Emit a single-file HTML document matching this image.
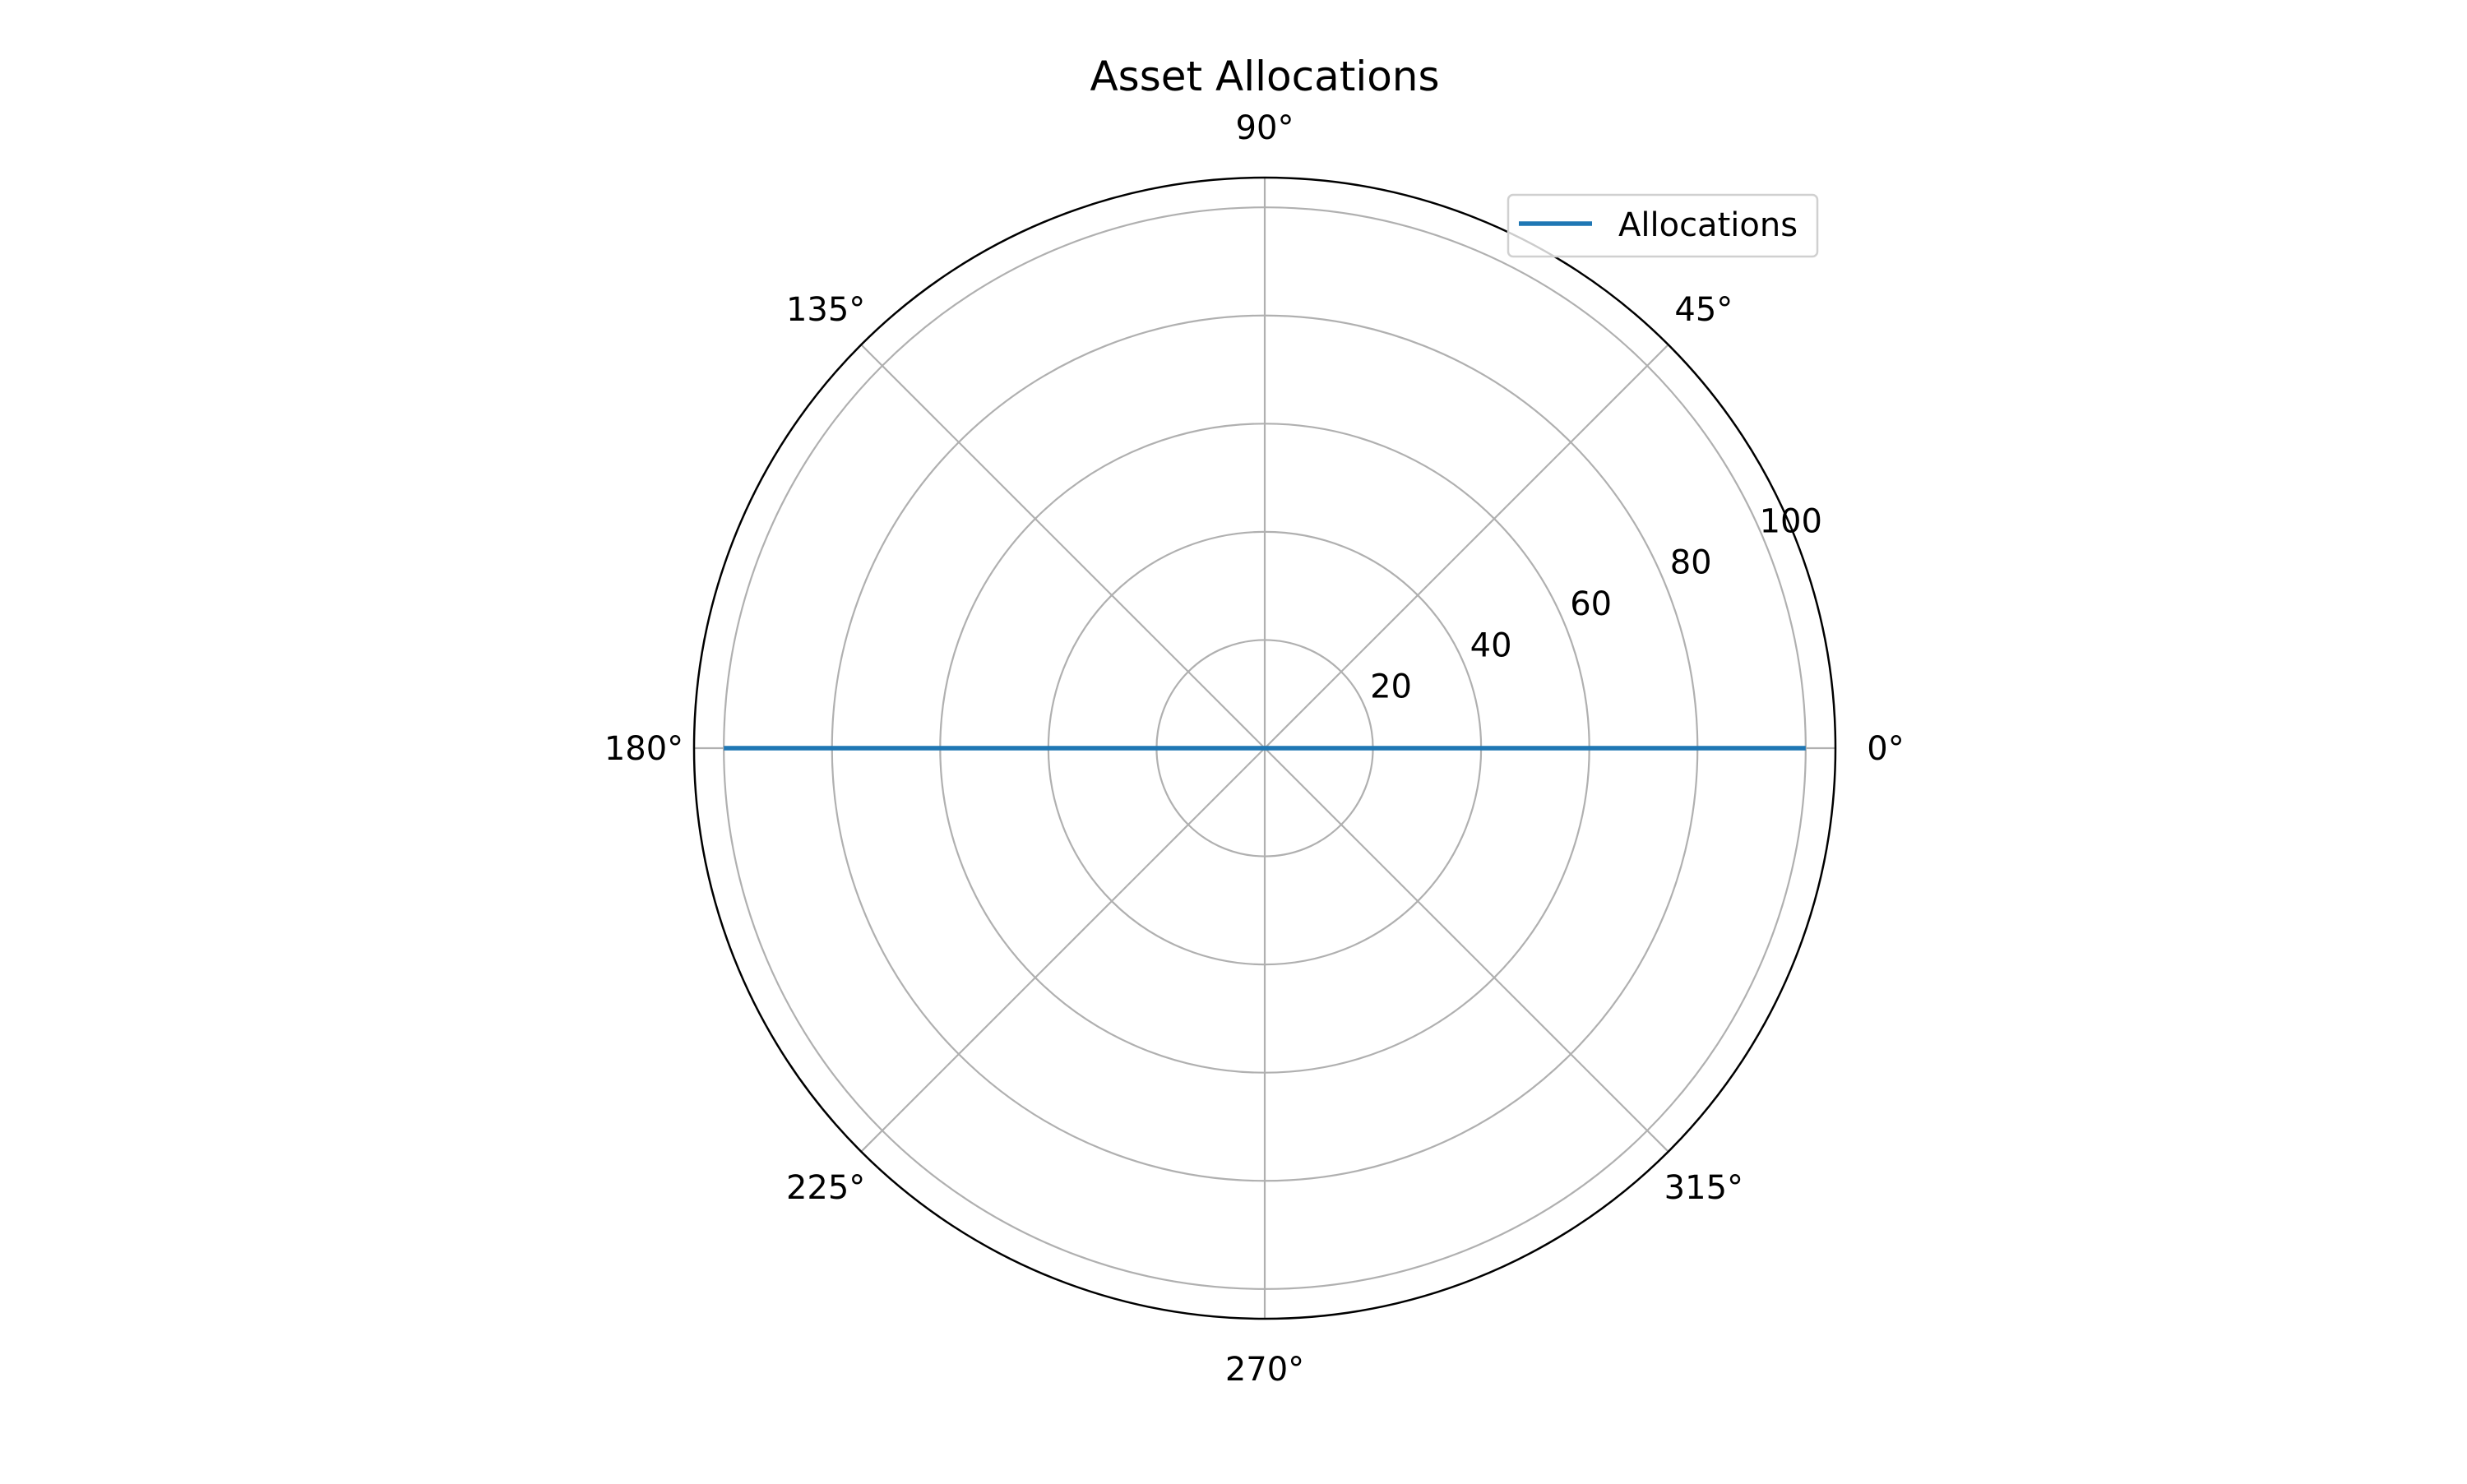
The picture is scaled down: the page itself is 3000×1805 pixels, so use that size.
<!DOCTYPE html>
<html><head><meta charset="utf-8"><style>
html,body{margin:0;padding:0;background:#fff}
svg text{font-family:"DejaVu Sans","Liberation Sans",sans-serif;fill:#000}
</style></head><body>
<svg id="chart" width="3000" height="1800" viewBox="0 0 3000 1800" xmlns="http://www.w3.org/2000/svg">
<rect width="3000" height="1800" fill="#fff"/>
<text x="1538" y="110" font-size="50" text-anchor="middle">Asset Allocations</text>
<g id="grid"></g>
<g id="series"></g>
<g id="labels"></g>
<g>
<rect x="1834" y="237" width="376" height="75" rx="6" fill="#fff" fill-opacity="0.8" stroke="#d0d0d0" stroke-width="2.5"/>
<line x1="1847" y1="272" x2="1936" y2="272" stroke="#1f77b4" stroke-width="5.5"/>
<text x="1968" y="287" font-size="40">Allocations</text>
</g>
</svg>
<script>
const thetaDeg = [0, 180];
const radii = [100, 100];
const rTicks = [20, 40, 60, 80, 100];
const rTickLabels = ["20", "40", "60", "80", "100"];
const thetaTicks = [0, 45, 90, 135, 180, 225, 270, 315];
const thetaTickLabels = ["0°", "45°", "90°", "135°", "180°", "225°", "270°", "315°"];
const rMax = 105.5;

const NS = "http://www.w3.org/2000/svg";
const cx = 1538, cy = 910, R = 694;
function rScale(v){ return v / rMax * R; }
function pt(deg, rp){ const a = deg*Math.PI/180; return [cx + rp*Math.cos(a), cy - rp*Math.sin(a)]; }
function mk(tag, attrs, parent){ const e = document.createElementNS(NS, tag); for (const k in attrs) e.setAttribute(k, attrs[k]); parent.appendChild(e); return e; }
const grid = document.getElementById('grid'), series = document.getElementById('series'), labels = document.getElementById('labels');

rTicks.forEach((v,i)=>{
  const c = mk('circle',{cx:cx,cy:cy,r:rScale(v),fill:'none',stroke:'#b0b0b0','stroke-width':2.2},grid);
  
  
  const p = pt(22.5, rScale(v));
  const t = mk('text',{x:p[0]+32,y:p[1]-25+14,'font-size':40,'text-anchor':'middle'},labels);
  t.textContent = rTickLabels[i];
  
  
});
thetaTicks.forEach((d,i)=>{
  const p = pt(d, R);
  const l = mk('line',{x1:cx,y1:cy,x2:p[0],y2:p[1],stroke:'#b0b0b0','stroke-width':2.2},grid);
  
  
  const q = pt(d, 755);
  const t = mk('text',{x:q[0],y:q[1]+14,'font-size':40,'text-anchor':'middle'},labels);
  t.textContent = thetaTickLabels[i];
  
  
});
const outer = mk('circle',{cx:cx,cy:cy,r:R,fill:'none',stroke:'#000','stroke-width':2.5},grid);



const pts = thetaDeg.map((d,i)=>pt(d, rScale(radii[i])).join(',')).join(' ');
const line = mk('polyline',{points:pts,fill:'none',stroke:'#1f77b4','stroke-width':5.5},series);


</script>
</body></html>
